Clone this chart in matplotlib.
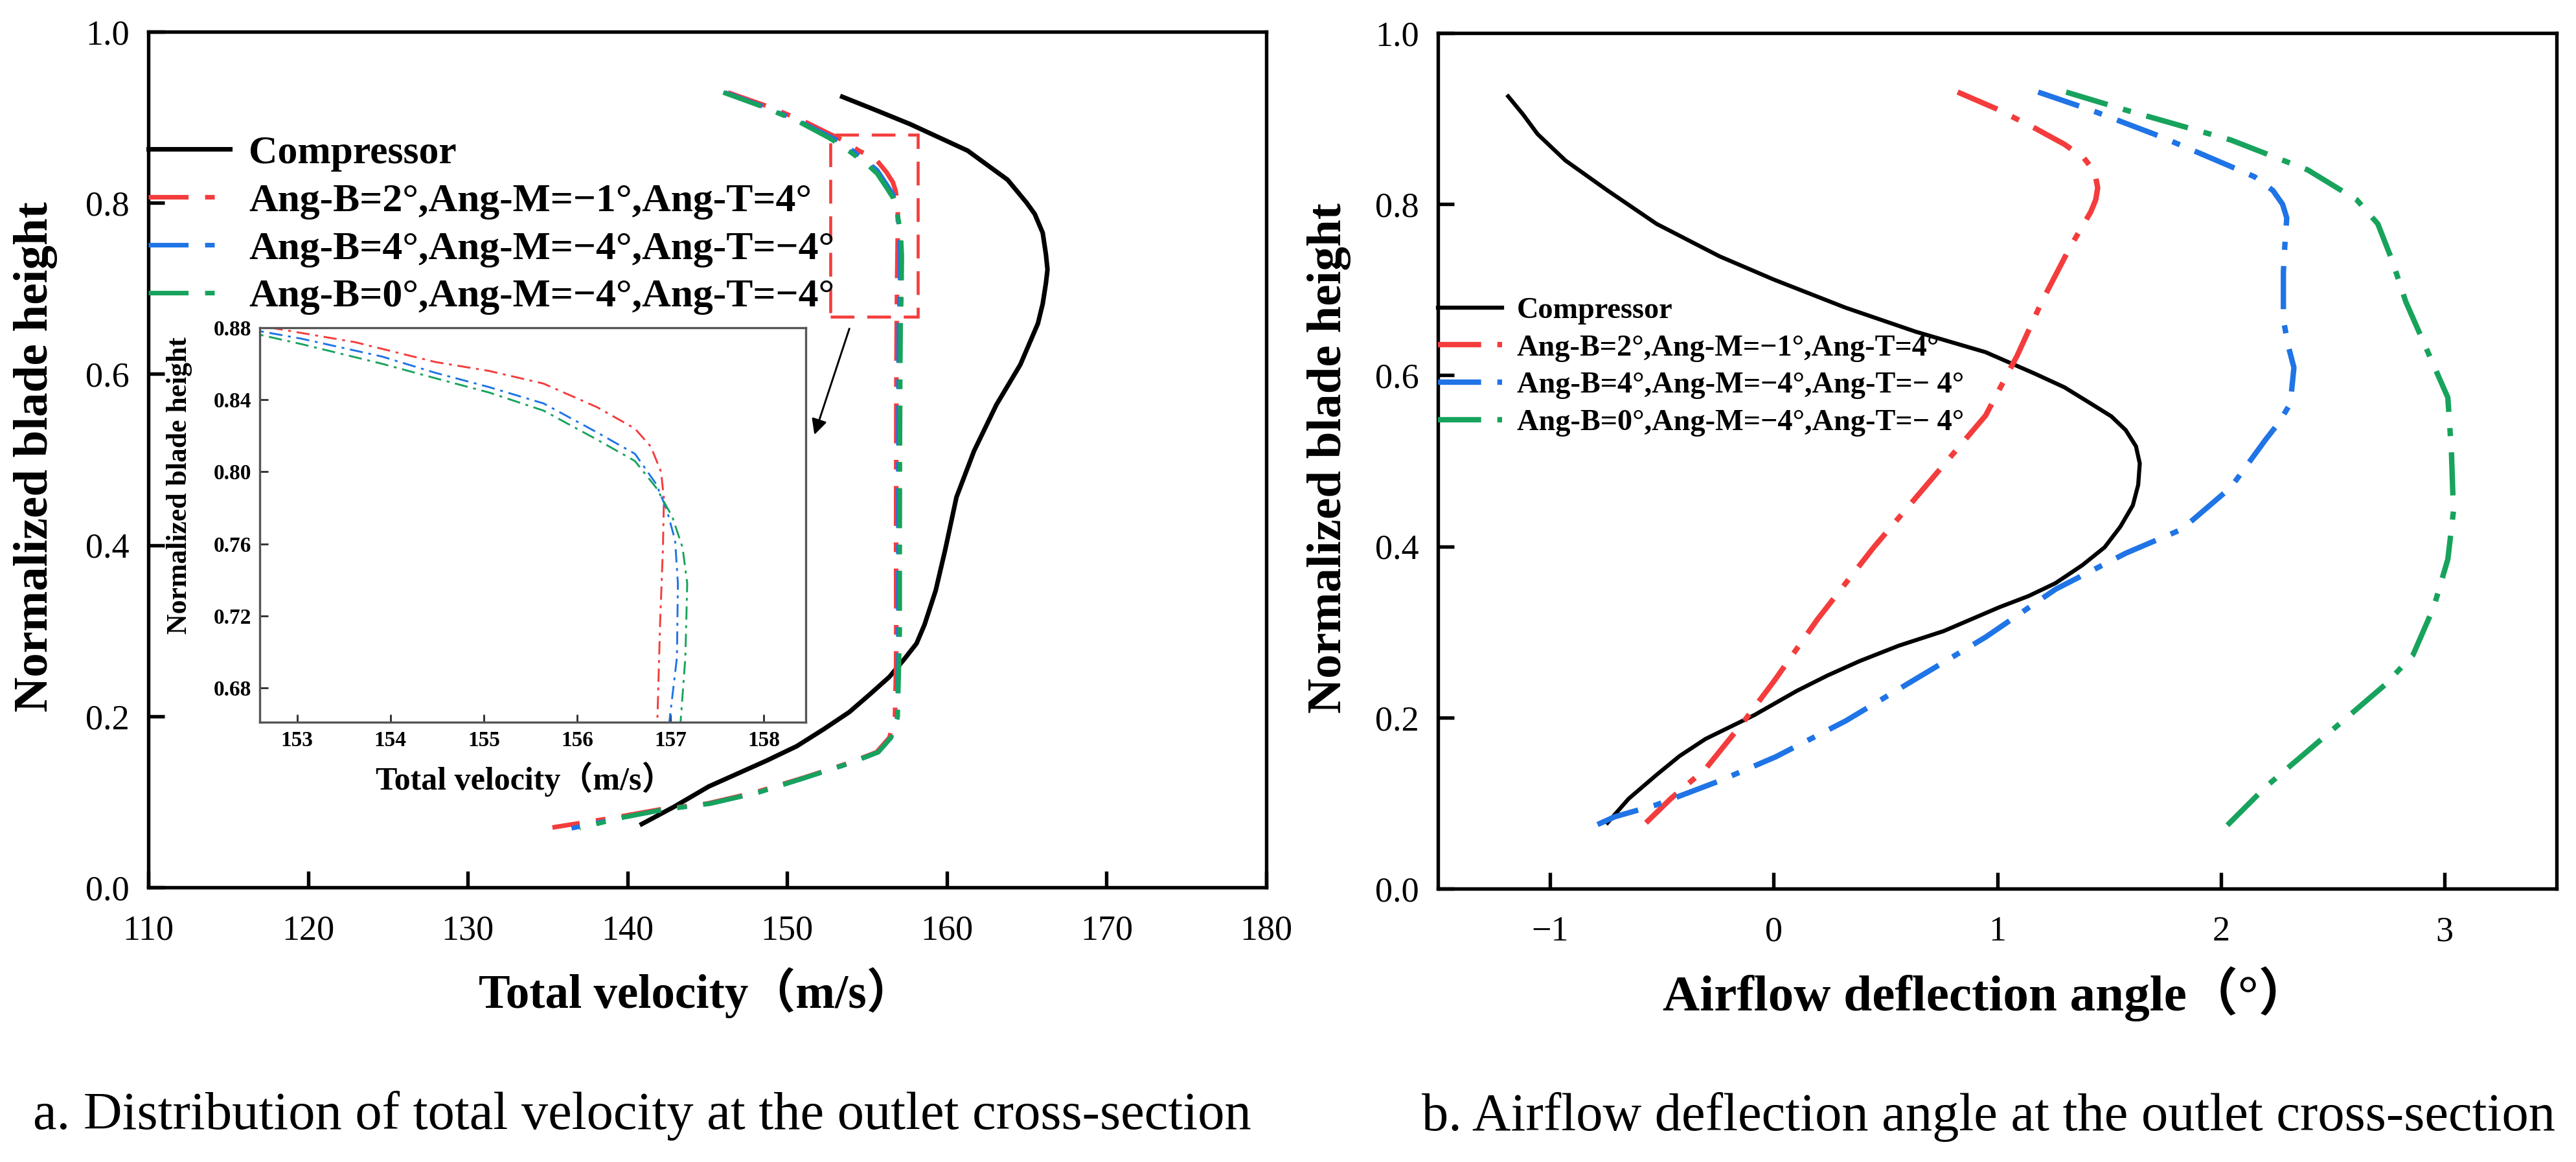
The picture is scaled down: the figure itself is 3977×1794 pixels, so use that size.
import matplotlib
matplotlib.use("Agg")
import matplotlib.pyplot as plt
import matplotlib.patches as patches

# ---------------- data: panel a (total velocity) ----------------
comp_v_y = [0.924, 0.908, 0.892, 0.861, 0.827, 0.800, 0.787, 0.765, 0.740, 0.722, 0.706, 0.682, 0.659,
            0.611, 0.564, 0.510, 0.456, 0.395, 0.347, 0.307, 0.285, 0.266, 0.246, 0.226, 0.205,
            0.185, 0.165, 0.148, 0.118, 0.094, 0.074]
comp_v_x = [153.45, 155.6, 157.7, 161.3, 163.8, 165.0, 165.5, 166.0, 166.2, 166.3, 166.2, 166.0, 165.7,
            164.6, 163.1, 161.7, 160.6, 159.9, 159.3, 158.6, 158.1, 157.3, 156.4, 155.2, 153.9,
            152.3, 150.6, 148.7, 145.1, 142.9, 140.9]

red_v_y = [0.929, 0.912, 0.895, 0.881, 0.872, 0.861, 0.856, 0.849, 0.836, 0.824, 0.814, 0.800,
           0.785, 0.758, 0.717, 0.662, 0.600, 0.500, 0.400, 0.300, 0.260, 0.199, 0.175, 0.158,
           0.145, 0.128, 0.111, 0.098, 0.091, 0.081, 0.070]
red_v_x = [146.3, 148.9, 151.1, 152.61, 153.62, 154.48, 155.06, 155.64, 156.21, 156.62, 156.79, 156.90,
           156.93, 156.92, 156.89, 156.86, 156.84, 156.83, 156.82, 156.83, 156.82, 156.75, 156.4, 155.6,
           153.8, 151.0, 148.0, 145.0, 142.0, 139.0, 135.3]

blue_v_y = [0.929, 0.912, 0.895, 0.878, 0.874, 0.864, 0.855, 0.847, 0.838, 0.822, 0.810, 0.793,
            0.779, 0.762, 0.738, 0.697, 0.662, 0.600, 0.500, 0.400, 0.300, 0.260, 0.199, 0.175,
            0.158, 0.145, 0.128, 0.111, 0.098, 0.091, 0.081, 0.069]
blue_v_x = [146.1, 148.6, 150.8, 152.61, 153.04, 153.91, 154.48, 155.06, 155.64, 156.21, 156.62, 156.85,
            156.96, 157.05, 157.08, 157.07, 156.99, 156.97, 156.96, 156.96, 156.96, 156.96, 156.9, 156.5,
            155.7, 153.9, 151.1, 148.2, 145.2, 142.3, 139.5, 136.5]

green_v_y = [0.929, 0.912, 0.895, 0.876, 0.871, 0.860, 0.852, 0.844, 0.834, 0.818, 0.806, 0.791,
             0.775, 0.758, 0.738, 0.697, 0.662, 0.600, 0.500, 0.400, 0.300, 0.260, 0.199, 0.175,
             0.158, 0.145, 0.128, 0.111, 0.098, 0.091, 0.081, 0.069]
green_v_x = [146.0, 148.5, 150.7, 152.61, 153.04, 153.91, 154.48, 155.06, 155.64, 156.21, 156.62, 156.85,
             157.02, 157.13, 157.18, 157.16, 157.11, 157.08, 157.06, 157.05, 157.05, 157.0, 156.92, 156.5,
             155.7, 153.9, 151.1, 148.2, 145.2, 142.3, 139.5, 137.0]

# ---------------- data: panel b (deflection angle) ----------------
comp_a_x = [-1.186, -1.12, -1.055, -0.93, -0.742, -0.523, -0.241, 0.0, 0.322, 0.635, 0.948, 1.167,
            1.30, 1.418, 1.51, 1.574, 1.62, 1.637, 1.63, 1.606, 1.55, 1.48, 1.38, 1.26, 1.14, 1.01,
            0.76, 0.56, 0.385, 0.24, 0.103, -0.085, -0.304, -0.42, -0.523, -0.648, -0.742]
comp_a_y = [0.926, 0.905, 0.882, 0.851, 0.816, 0.777, 0.739, 0.712, 0.679, 0.651, 0.627, 0.602,
            0.586, 0.567, 0.552, 0.536, 0.517, 0.497, 0.472, 0.448, 0.423, 0.399, 0.378, 0.357,
            0.342, 0.329, 0.301, 0.284, 0.266, 0.249, 0.231, 0.203, 0.175, 0.155, 0.133, 0.105, 0.077]

red_a_x = [0.823, 1.0, 1.167, 1.30, 1.387, 1.435, 1.449, 1.44, 1.418, 1.324, 1.199, 1.089, 0.948,
           0.698, 0.448, 0.197, 0.009, -0.131, -0.304, -0.46, -0.57]
red_a_y = [0.931, 0.911, 0.889, 0.870, 0.854, 0.838, 0.819, 0.805, 0.791, 0.749, 0.686, 0.623, 0.553,
           0.476, 0.399, 0.315, 0.245, 0.196, 0.140, 0.105, 0.077]

blue_a_x = [1.183, 1.418, 1.73, 2.044, 2.15, 2.232, 2.275, 2.294, 2.285, 2.279, 2.279, 2.30, 2.326,
            2.31, 2.26, 2.2, 2.044, 1.825, 1.574, 1.261, 0.948, 0.635, 0.322, 0.009, -0.241, -0.523,
            -0.71, -0.82]
blue_a_y = [0.931, 0.910, 0.879, 0.844, 0.832, 0.816, 0.800, 0.784, 0.750, 0.721, 0.665, 0.635, 0.609,
            0.567, 0.545, 0.525, 0.469, 0.420, 0.392, 0.350, 0.294, 0.245, 0.196, 0.154, 0.126, 0.098,
            0.084, 0.071]

green_a_x = [1.308, 1.574, 2.044, 2.388, 2.607, 2.701, 2.764, 2.826, 2.92, 3.014, 3.03, 3.039,
             3.014, 2.951, 2.858, 2.732, 2.576, 2.388, 2.2, 2.028]
green_a_y = [0.931, 0.910, 0.875, 0.840, 0.805, 0.777, 0.735, 0.686, 0.630, 0.574, 0.511, 0.441,
             0.385, 0.329, 0.273, 0.238, 0.203, 0.161, 0.119, 0.074]

labels_a = ["Compressor", "Ang-B=2°,Ang-M=−1°,Ang-T=4°",
            "Ang-B=4°,Ang-M=−4°,Ang-T=−4°", "Ang-B=0°,Ang-M=−4°,Ang-T=−4°"]
labels_b = ["Compressor", "Ang-B=2°,Ang-M=−1°,Ang-T=4°",
            "Ang-B=4°,Ang-M=−4°,Ang-T=− 4°", "Ang-B=0°,Ang-M=−4°,Ang-T=− 4°"]

vel_ticks = [110, 120, 130, 140, 150, 160, 170, 180]
ang_ticks = [-1, 0, 1, 2, 3]
h_ticks = [0.0, 0.2, 0.4, 0.6, 0.8, 1.0]
inset_xticks = [153, 154, 155, 156, 157, 158]
inset_yticks = [0.68, 0.72, 0.76, 0.80, 0.84, 0.88]

# ---------------- style ----------------
RED = "#F43C3C"
BLUE = "#1F74E6"
GREEN = "#17A35C"
SERIF = "Liberation Serif"
SERIF_CJK = ["Liberation Serif", "Noto Sans CJK SC"]
DASHDOT = (0, (8.7, 3.6, 2.1, 3.6))
DASHDOT_B = (0, (8.0, 3.0, 1.5, 3.0))
DASHDOT_IN = (0, (7.0, 3.0, 1.5, 3.0))

plt.rcParams["font.family"] = SERIF

W, H = 3977, 1794
fig = plt.figure(figsize=(W / 300, H / 300), dpi=300)


def fx(px):
    return px / W


def fy(py):
    return 1 - py / H


def style_axes(ax, spine_lw=1.3):
    for s in ax.spines.values():
        s.set_linewidth(spine_lw)
    ax.tick_params(direction="in", length=6, width=1.3, labelsize=13, pad=7,
                   top=False, right=False)
    for lab in ax.get_xticklabels() + ax.get_yticklabels():
        lab.set_fontfamily(SERIF)


# ---------------- panel a ----------------
axa = fig.add_axes([fx(229), fy(1370), fx(1955) - fx(229), fy(49) - fy(1370)])
axa.plot(comp_v_x, comp_v_y, color="black", lw=1.7, label=labels_a[0])
axa.plot(red_v_x, red_v_y, color=RED, lw=1.7, ls=DASHDOT, label=labels_a[1])
axa.plot(blue_v_x, blue_v_y, color=BLUE, lw=1.7, ls=DASHDOT, label=labels_a[2])
axa.plot(green_v_x, green_v_y, color=GREEN, lw=1.7, ls=DASHDOT, label=labels_a[3])
axa.set_xlim(110, 180)
axa.set_ylim(0, 1.0)
axa.set_xticks(vel_ticks)
axa.set_yticks(h_ticks)
axa.set_yticklabels([f"{v:.1f}" for v in h_ticks])
style_axes(axa)
axa.tick_params(axis="x", pad=10)
axa.set_xlabel("Total velocity（m/s）", fontsize=17.5, fontweight="bold",
               family=SERIF_CJK, va="center")
axa.xaxis.set_label_coords(0.49, -0.123)
axa.set_ylabel("Normalized blade height", fontsize=18, fontweight="bold",
               family=SERIF, va="center")
axa.yaxis.set_label_coords(-0.101, 0.503)

leg_a = axa.legend(loc="center left", bbox_to_anchor=(0.0, 0.774), frameon=False,
                   borderpad=0, borderaxespad=0, handlelength=2.05, handletextpad=0.47,
                   labelspacing=0.285,
                   prop={"family": SERIF, "weight": "bold", "size": 14.8})

# zoom rectangle & arrow
rect = patches.Rectangle((152.7, 0.667), 5.5, 0.213, fill=False, edgecolor=RED,
                         lw=1.1, ls=(0, (8, 4.3)), zorder=5)
axa.add_patch(rect)
axa.annotate("", xy=(151.6, 0.523), xytext=(154.0, 0.659),
             arrowprops=dict(arrowstyle="-|>", color="black", lw=0.7, mutation_scale=12))

# inset
axi = fig.add_axes([fx(401), fy(1115), fx(1244) - fx(401), fy(506) - fy(1115)])
axi.plot(red_v_x, red_v_y, color=RED, lw=0.7, ls=DASHDOT_IN)
axi.plot(blue_v_x, blue_v_y, color=BLUE, lw=0.7, ls=DASHDOT_IN)
axi.plot(green_v_x, green_v_y, color=GREEN, lw=0.7, ls=DASHDOT_IN)
axi.set_xlim(152.6, 158.45)
axi.set_ylim(0.661, 0.88)
axi.set_xticks(inset_xticks)
axi.set_yticks(inset_yticks)
axi.set_yticklabels([f"{v:.2f}" for v in inset_yticks])
for s in axi.spines.values():
    s.set_linewidth(0.8)
    s.set_color("#555555")
axi.tick_params(direction="in", length=3, width=0.7, colors="#333333", labelsize=8, pad=3)
for lab in axi.get_xticklabels() + axi.get_yticklabels():
    lab.set_fontfamily(SERIF)
    lab.set_fontweight("bold")
    lab.set_color("black")
axi.set_xlabel("Total velocity（m/s）", fontsize=12, fontweight="bold",
               family=SERIF_CJK, va="center")
axi.xaxis.set_label_coords(0.485, -0.144)
axi.set_ylabel("Normalized blade height", fontsize=10.5, fontweight="bold",
               family=SERIF, va="center")
axi.yaxis.set_label_coords(-0.147, 0.60)

# ---------------- panel b ----------------
axb = fig.add_axes([fx(2220), fy(1372), fx(3947) - fx(2220), fy(51) - fy(1372)])
axb.plot(comp_a_x, comp_a_y, color="black", lw=1.5, label=labels_b[0])
axb.plot(red_a_x, red_a_y, color=RED, lw=2.0, ls=DASHDOT_B, label=labels_b[1])
axb.plot(blue_a_x, blue_a_y, color=BLUE, lw=2.0, ls=DASHDOT_B, label=labels_b[2])
axb.plot(green_a_x, green_a_y, color=GREEN, lw=2.0, ls=DASHDOT_B, label=labels_b[3])
axb.set_xlim(-1.5, 3.5)
axb.set_ylim(0, 1.0)
axb.set_xticks(ang_ticks)
axb.set_yticks(h_ticks)
axb.set_yticklabels([f"{v:.1f}" for v in h_ticks])
style_axes(axb)
axb.tick_params(axis="x", pad=10)
axb.set_xlabel("Airflow deflection angle（°）", fontsize=19, fontweight="bold",
               family=SERIF_CJK, va="center")
axb.xaxis.set_label_coords(0.49, -0.123)
axb.set_ylabel("Normalized blade height", fontsize=18, fontweight="bold",
               family=SERIF, va="center")
axb.yaxis.set_label_coords(-0.097, 0.503)

leg_b = axb.legend(loc="center left", bbox_to_anchor=(0.0, 0.610), frameon=False,
                   borderpad=0, borderaxespad=0, handlelength=2.15, handletextpad=0.48,
                   labelspacing=0.33,
                   prop={"family": SERIF, "weight": "bold", "size": 11.1})

# ---------------- captions ----------------
fig.text(fx(51), fy(1722), "a. Distribution of total velocity at the outlet cross-section",
         fontsize=19.8, family=SERIF, ha="left", va="center")
fig.text(fx(2195), fy(1724), "b. Airflow deflection angle at the outlet cross-section",
         fontsize=19.8, family=SERIF, ha="left", va="center")

fig.savefig("out.png", dpi=300, facecolor="white")
